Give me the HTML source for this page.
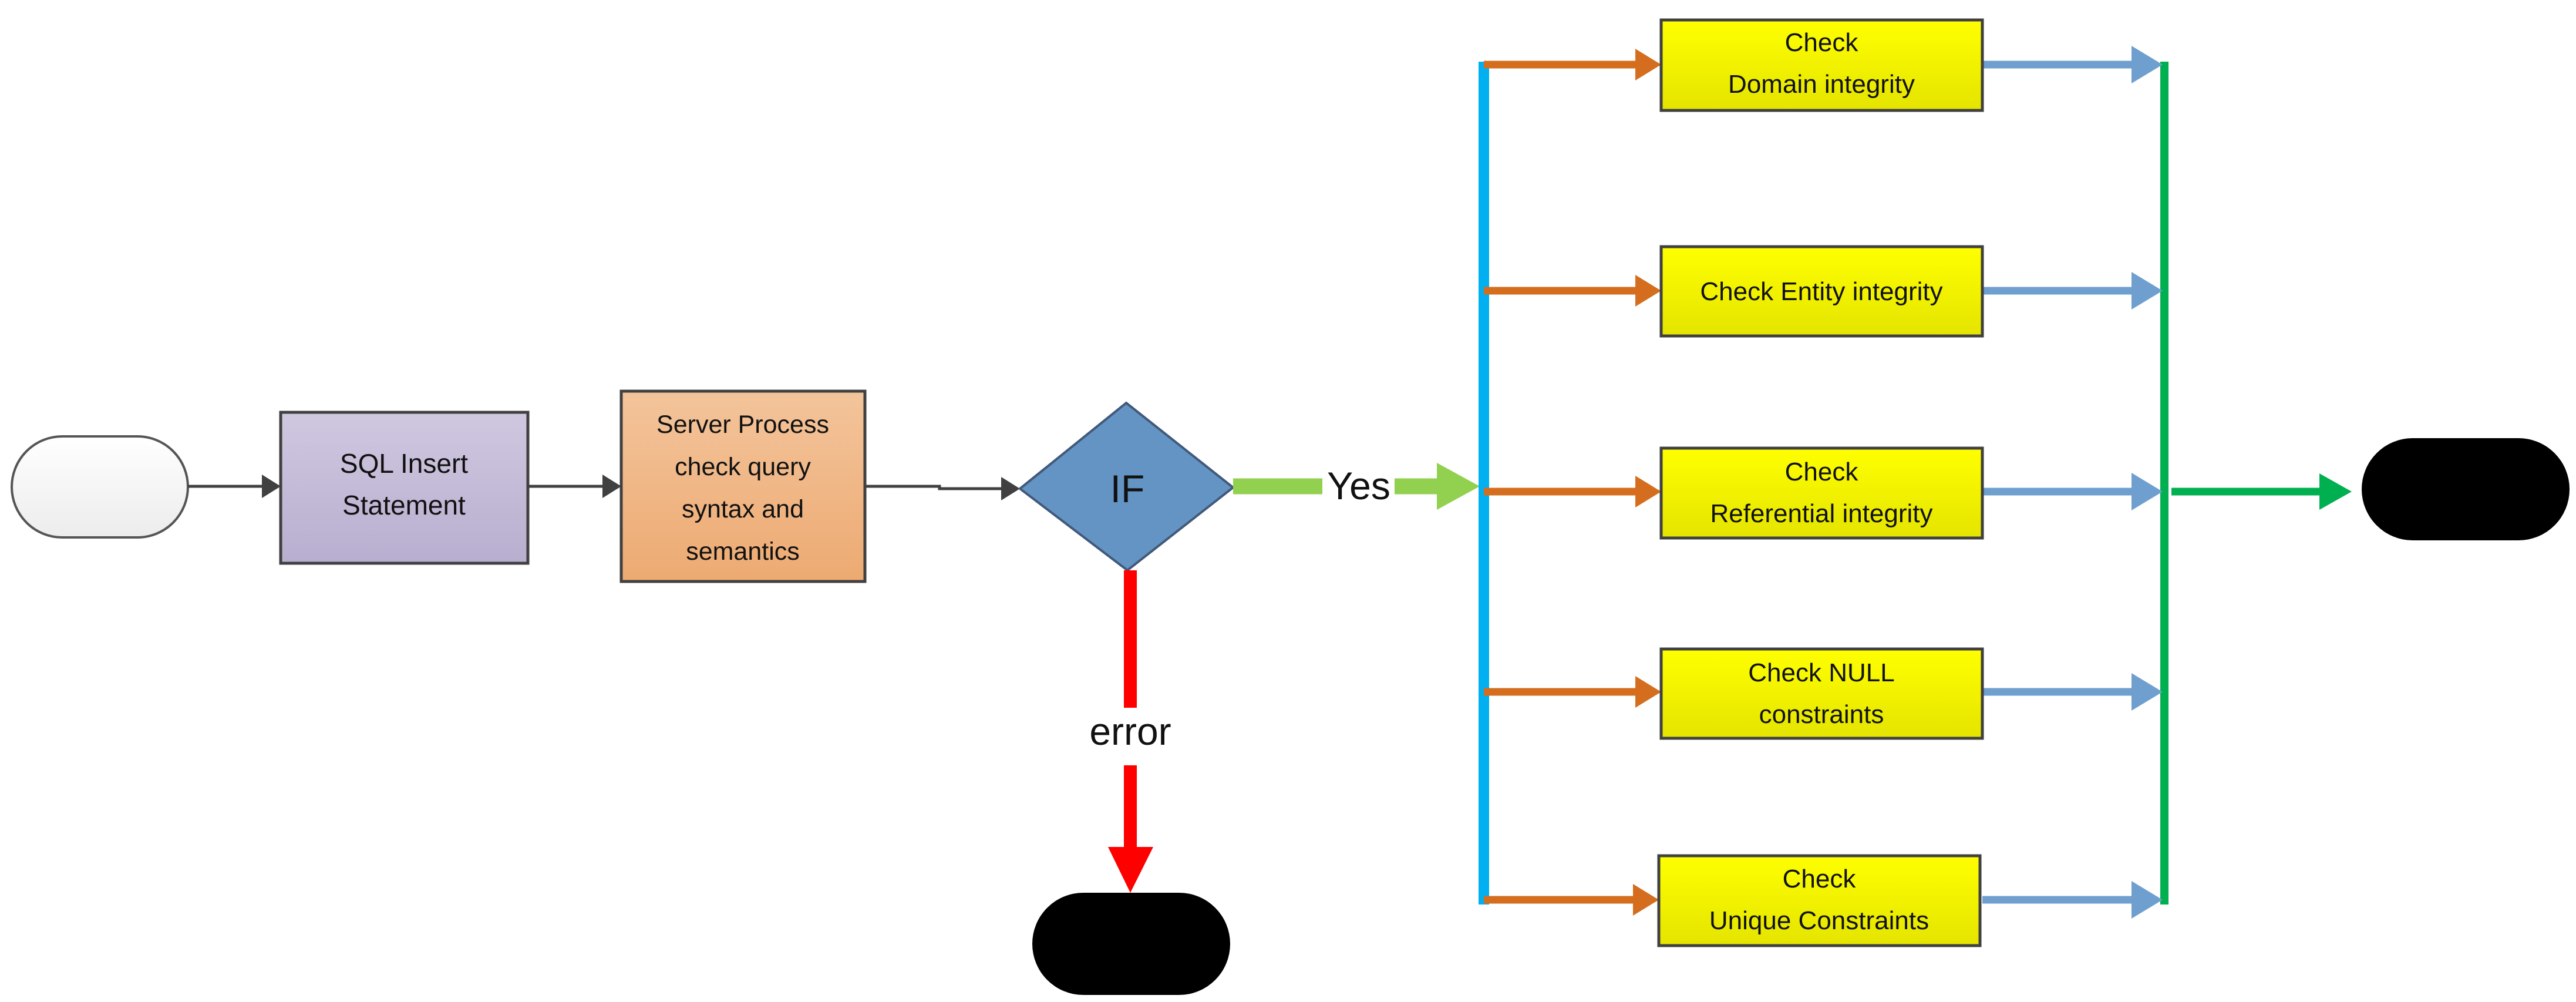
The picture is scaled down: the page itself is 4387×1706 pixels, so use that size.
<!DOCTYPE html>
<html><head><meta charset="utf-8"><style>html,body{margin:0;padding:0;background:#fff}svg{display:block}</style></head>
<body>
<svg width="4387" height="1706" viewBox="0 0 4387 1706" xmlns="http://www.w3.org/2000/svg" font-family="'Liberation Sans', sans-serif">
<defs>
<linearGradient id="gs" x1="0" y1="0" x2="0" y2="1"><stop offset="0" stop-color="#ffffff"/><stop offset="1" stop-color="#ececec"/></linearGradient>
<linearGradient id="gp" x1="0" y1="0" x2="0" y2="1"><stop offset="0" stop-color="#d0c8e0"/><stop offset="1" stop-color="#b8aecf"/></linearGradient>
<linearGradient id="go" x1="0" y1="0" x2="0" y2="1"><stop offset="0" stop-color="#f3c49b"/><stop offset="1" stop-color="#edaa72"/></linearGradient>
<linearGradient id="gy" x1="0" y1="0" x2="0" y2="1"><stop offset="0" stop-color="#ffff00"/><stop offset="1" stop-color="#e4e400"/></linearGradient>
</defs>

<rect x="20" y="743" width="300" height="172" rx="86" fill="url(#gs)" stroke="#555" stroke-width="4"/>
<line x1="320" y1="828" x2="455" y2="828" stroke="#404040" stroke-width="5"/>
<polygon points="478,828 446,808 446,848" fill="#404040"/>

<rect x="478" y="702" width="421" height="257" fill="url(#gp)" stroke="#404040" stroke-width="5"/>
<text x="688" y="805" font-size="46" text-anchor="middle" fill="#111">SQL Insert</text>
<text x="688" y="876" font-size="46" text-anchor="middle" fill="#111">Statement</text>

<line x1="899" y1="828" x2="1035" y2="828" stroke="#404040" stroke-width="5"/>
<polygon points="1058,828 1026,808 1026,848" fill="#404040"/>

<rect x="1058" y="666" width="415" height="324" fill="url(#go)" stroke="#404040" stroke-width="5"/>
<text x="1265" y="737" font-size="43" text-anchor="middle" fill="#111">Server Process</text>
<text x="1265" y="809" font-size="43" text-anchor="middle" fill="#111">check query</text>
<text x="1265" y="881" font-size="43" text-anchor="middle" fill="#111">syntax and</text>
<text x="1265" y="953" font-size="43" text-anchor="middle" fill="#111">semantics</text>

<polyline points="1473,828 1600,828 1600,832 1712,832" fill="none" stroke="#404040" stroke-width="5"/>
<polygon points="1737,832 1705,812 1705,852" fill="#404040"/>

<polygon points="1918,686 2100,830 1920,971 1737,832" fill="#6394c4" stroke="#41597a" stroke-width="4"/>
<text x="1920" y="855" font-size="66" text-anchor="middle" fill="#111">IF</text>

<line x1="2100" y1="828" x2="2252" y2="828" stroke="#92d050" stroke-width="27"/>
<line x1="2375" y1="828" x2="2450" y2="828" stroke="#92d050" stroke-width="27"/>
<polygon points="2520,828 2447,788 2447,868" fill="#92d050"/>
<text x="2314" y="850" font-size="66" text-anchor="middle" fill="#111">Yes</text>

<line x1="1925" y1="971" x2="1925" y2="1205" stroke="#ff0000" stroke-width="22"/>
<line x1="1925" y1="1303" x2="1925" y2="1445" stroke="#ff0000" stroke-width="22"/>
<polygon points="1925,1520 1887,1442 1964,1442" fill="#ff0000"/>
<text x="1925" y="1268" font-size="66" text-anchor="middle" fill="#111">error</text>
<rect x="1758" y="1520" width="337" height="174" rx="87" fill="#000"/>

<line x1="2527" y1="105" x2="2527" y2="1540" stroke="#00b0f0" stroke-width="18"/>
<line x1="3686" y1="105" x2="3686" y2="1540" stroke="#00b050" stroke-width="14"/>

<g stroke-width="13">
<line x1="2527" y1="110" x2="2790" y2="110" stroke="#d46e1e"/>
<line x1="2527" y1="495" x2="2790" y2="495" stroke="#d46e1e"/>
<line x1="2527" y1="837" x2="2790" y2="837" stroke="#d46e1e"/>
<line x1="2527" y1="1178" x2="2790" y2="1178" stroke="#d46e1e"/>
<line x1="2527" y1="1532" x2="2790" y2="1532" stroke="#d46e1e"/>
<line x1="3376" y1="110" x2="3640" y2="110" stroke="#6f9fcf"/>
<line x1="3376" y1="495" x2="3640" y2="495" stroke="#6f9fcf"/>
<line x1="3376" y1="837" x2="3640" y2="837" stroke="#6f9fcf"/>
<line x1="3376" y1="1178" x2="3640" y2="1178" stroke="#6f9fcf"/>
<line x1="3376" y1="1532" x2="3640" y2="1532" stroke="#6f9fcf"/>
</g>
<g fill="#d46e1e">
<polygon points="2829,110 2785,83 2785,137"/>
<polygon points="2829,495 2785,468 2785,522"/>
<polygon points="2829,837 2785,810 2785,864"/>
<polygon points="2829,1178 2785,1151 2785,1205"/>
<polygon points="2825,1532 2781,1505 2781,1559"/>
</g>
<g fill="#6f9fcf">
<polygon points="3683,110 3630,78 3630,142"/>
<polygon points="3683,495 3630,463 3630,527"/>
<polygon points="3683,837 3630,805 3630,869"/>
<polygon points="3683,1178 3630,1146 3630,1210"/>
<polygon points="3683,1532 3630,1500 3630,1564"/>
</g>

<g stroke="#404040" stroke-width="5" fill="url(#gy)">
<rect x="2829" y="34" width="547" height="154"/>
<rect x="2829" y="420" width="547" height="152"/>
<rect x="2829" y="763" width="547" height="153"/>
<rect x="2829" y="1105" width="547" height="152"/>
<rect x="2825" y="1457" width="547" height="153"/>
</g>
<g font-size="44" text-anchor="middle" fill="#111">
<text x="3102" y="87">Check</text>
<text x="3102" y="158">Domain integrity</text>
<text x="3102" y="511">Check Entity integrity</text>
<text x="3102" y="818">Check</text>
<text x="3102" y="889">Referential integrity</text>
<text x="3102" y="1160">Check NULL</text>
<text x="3102" y="1231">constraints</text>
<text x="3098" y="1511">Check</text>
<text x="3098" y="1582">Unique Constraints</text>
</g>

<line x1="3698" y1="837" x2="3950" y2="837" stroke="#00b050" stroke-width="13"/>
<polygon points="4005,837 3950,806 3950,868" fill="#00b050"/>
<rect x="4022" y="746" width="354" height="174" rx="87" fill="#000"/>
</svg>
</body></html>
